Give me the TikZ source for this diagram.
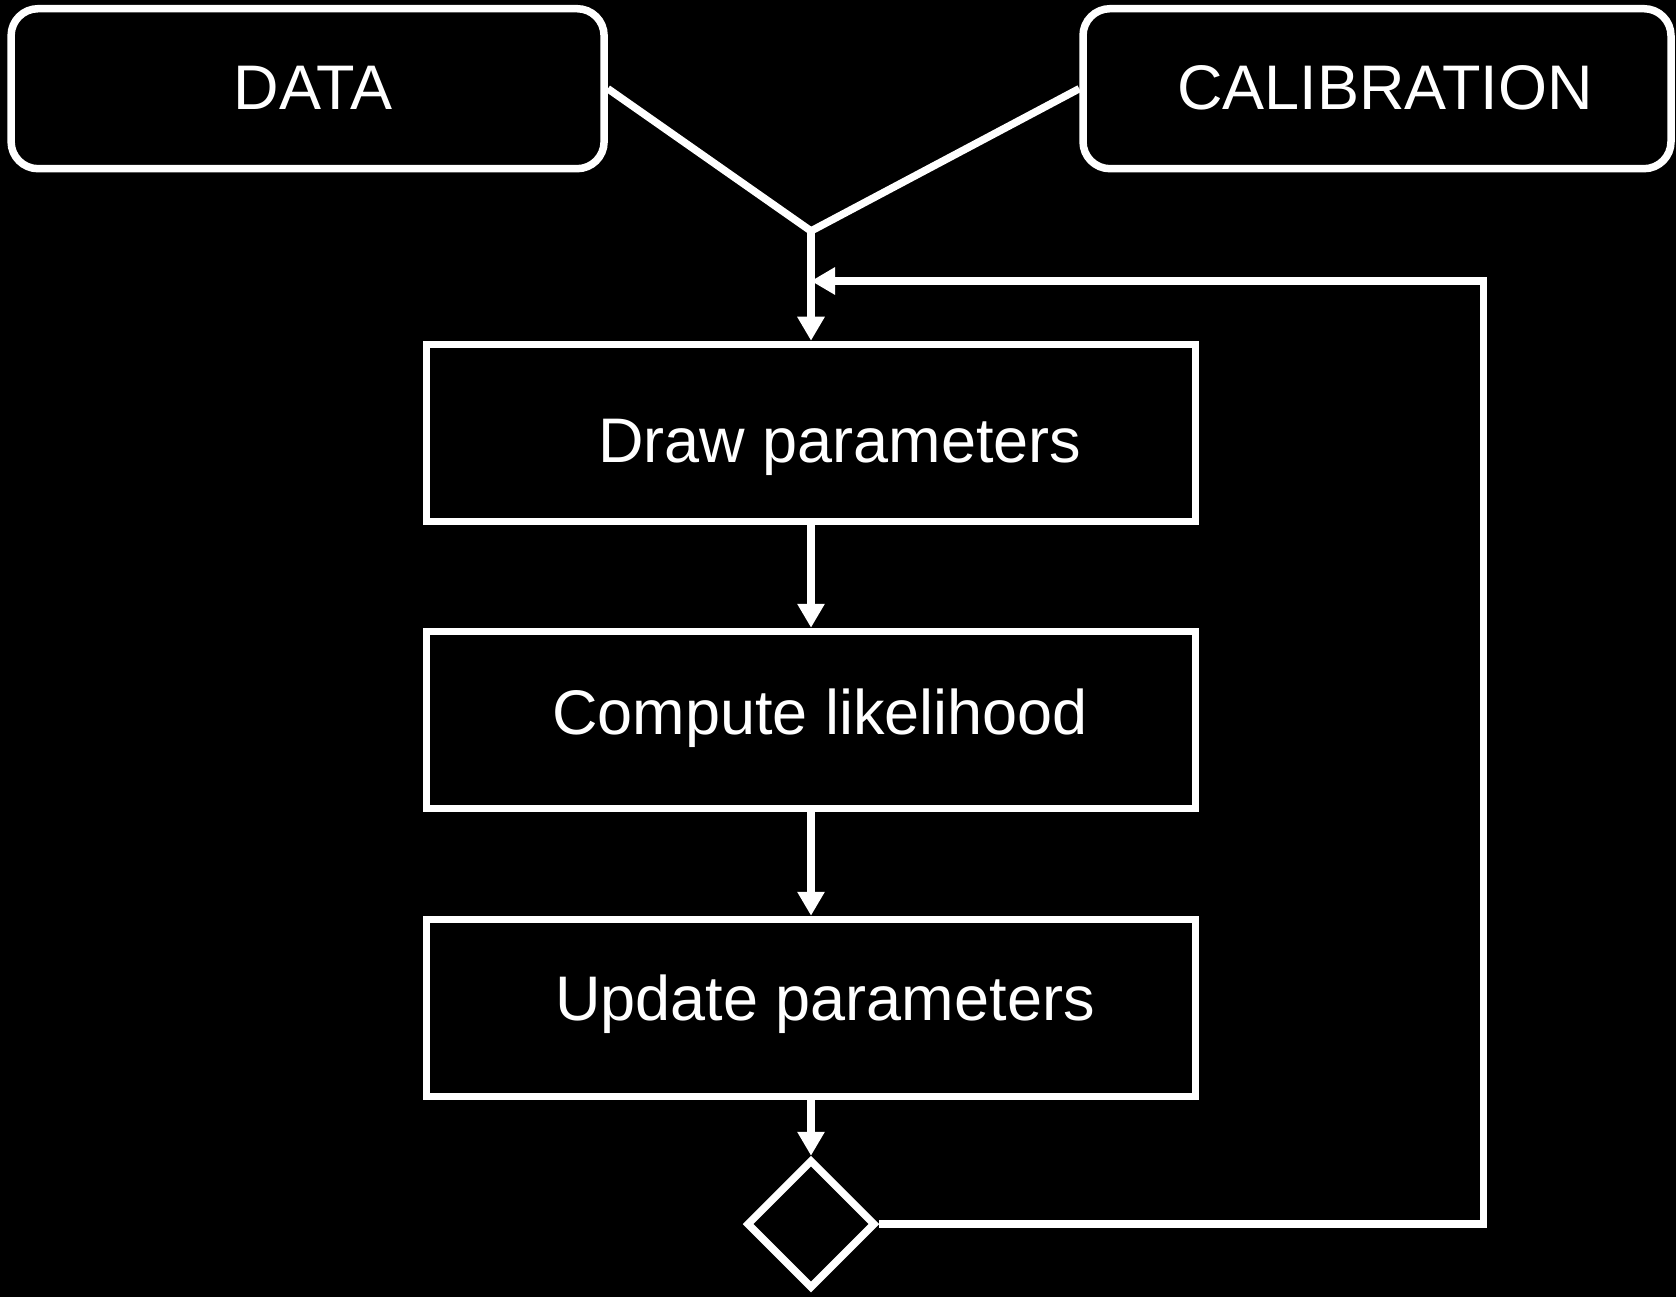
\documentclass[tikz,border=0pt]{standalone}
\usepackage{fontspec}
\setmainfont{Liberation Sans}
\usetikzlibrary{arrows.meta,shapes.geometric}
\begin{document}
\begin{tikzpicture}[x=1pt,y=-1pt,
  conn/.style={draw=white,line width=7.5pt},
  arr/.style={conn,-{Triangle[length=24pt,width=26pt]}},
  topbox/.style={draw=white,line width=7.5pt,rounded corners=27pt,minimum height=160pt,inner sep=0pt},
  stepbox/.style={draw=white,line width=7.5pt,minimum width=769pt,minimum height=177pt,inner sep=0pt},
  lbl/.style={text=white,font=\fontsize{63}{70}\selectfont,inner sep=0pt},
  decbox/.style={draw=white,line width=7.5pt,shape=diamond,minimum width=129pt,minimum height=129pt,inner sep=0pt}]
\fill[black] (0,0) rectangle (1676,1297);
\useasboundingbox (0,0) rectangle (1676,1297);
\node[topbox,minimum width=593pt] (data) at (307.6,88.7) {};
\node[lbl] (datat) at (313,88) {DATA};
\node[topbox,minimum width=588pt] (calib) at (1377,88.7) {};
\node[lbl] (calibt) at (1385,88) {CALIBRATION};
\coordinate (J) at (811,231);
\node[stepbox] (drawp) at (811,433) {};
\node[lbl] (drawpt) at (840,447) {Draw parameters};
\node[stepbox] (comp) at (811,720) {};
\node[lbl] (compt) at (820,718) {Compute likelihood};
\node[stepbox] (upd) at (811,1008) {};
\node[lbl] (updt) at (825,1004) {Update parameters};
\node[decbox] (dec) at (811,1224) {};
\coordinate (fb) at (1483.6,281);
\draw[conn] (data.east) -- (J) -- (calib.west);
\draw[arr] (J) -- (drawp.north);
\draw[arr] (drawp.south) -- (comp.north);
\draw[arr] (comp.south) -- (upd.north);
\draw[arr] (upd.south) -- (dec.north);
\draw[arr] (dec.east) -| (fb) -- (J |- fb);
\end{tikzpicture}
\end{document}
